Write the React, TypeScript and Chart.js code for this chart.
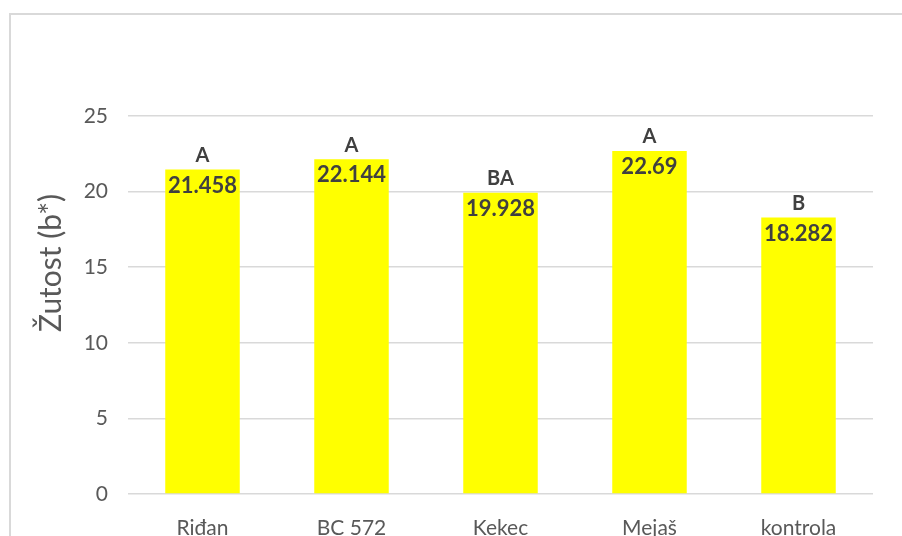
import React, { useEffect, useRef } from "react";
import { Chart, registerables } from "chart.js";

Chart.register(...registerables);

const categories = ["Riđan", "BC 572", "Kekec", "Mejaš", "kontrola"];
const values = [21.458, 22.144, 19.928, 22.69, 18.282];
const groupLetters = ["A", "A", "BA", "A", "B"];
const yTicks = [0, 5, 10, 15, 20, 25];
const yTitle = "Žutost (b*)";

const FONT = "Lato, 'Open Sans', sans-serif";

const labelPlugin = {
  id: "barLabels",
  afterDatasetsDraw(chart: any) {
    const ctx = chart.ctx;
    const meta = chart.getDatasetMeta(0);
    ctx.save();
    ctx.textAlign = "center";
    ctx.textBaseline = "middle";
    meta.data.forEach((bar: any, i: number) => {
      ctx.fillStyle = "#404040";
      ctx.font = `bold 22px ${FONT}`;
      ctx.fillText(values[i].toString(), bar.x, bar.y + 16);
      ctx.font = `bold 20px ${FONT}`;
      ctx.fillText(groupLetters[i], bar.x, bar.y - 14);
    });
    ctx.restore();
  },
};

const titlePlugin = {
  id: "yTitle",
  afterDraw(chart: any) {
    const ctx = chart.ctx;
    ctx.save();
    ctx.translate(51, 263);
    ctx.rotate(-Math.PI / 2);
    ctx.textAlign = "center";
    ctx.textBaseline = "middle";
    ctx.fillStyle = "#595959";
    ctx.font = `30px ${FONT}`;
    ctx.fillText(yTitle, 0, 0);
    ctx.restore();
  },
};

export default function App() {
  const ref = useRef<HTMLCanvasElement>(null);
  useEffect(() => {
    if (!ref.current) return;
    const chart = new Chart(ref.current, {
      type: "bar",
      data: {
        labels: categories,
        datasets: [
          {
            data: values,
            backgroundColor: "#FFFF00",
            borderWidth: 0,
            categoryPercentage: 1,
            barPercentage: 0.5,
          },
        ],
      },
      options: {
        animation: false,
        responsive: false,
        layout: { padding: { top: 116, right: 29, left: 0, bottom: 0 } },
        plugins: { legend: { display: false }, tooltip: { enabled: false } },
        scales: {
          x: {
            grid: { display: false, drawTicks: false },
            border: { display: false },
            ticks: { color: "#595959", font: { family: FONT, size: 21 }, padding: 22, maxRotation: 0 },
            afterFit: (s: any) => {
              s.height = 42;
            },
          },
          y: {
            min: 0,
            max: 25,
            afterBuildTicks: (s: any) => {
              s.ticks = yTicks.map((v) => ({ value: v }));
            },
            grid: { color: "#d9d9d9", lineWidth: 1.5, drawTicks: false },
            border: { display: false },
            ticks: { color: "#595959", font: { family: FONT, size: 21 }, padding: 20 },
            afterFit: (s: any) => {
              s.width = 128;
            },
          },
        },
      },
      plugins: [labelPlugin, titlePlugin],
    });
    return () => chart.destroy();
  }, []);
  return (
    <div style={{ position: "absolute", left: 0, top: 0, width: 902, height: 536, overflow: "hidden", background: "#fff" }}>
      <div
        style={{
          position: "absolute",
          left: 9,
          top: 13,
          width: 1000,
          height: 1000,
          border: "2px solid #d9d9d9",
          boxSizing: "border-box",
        }}
      />
      <canvas ref={ref} width={902} height={536} style={{ position: "absolute", left: 0, top: 0 }} />
    </div>
  );
}
